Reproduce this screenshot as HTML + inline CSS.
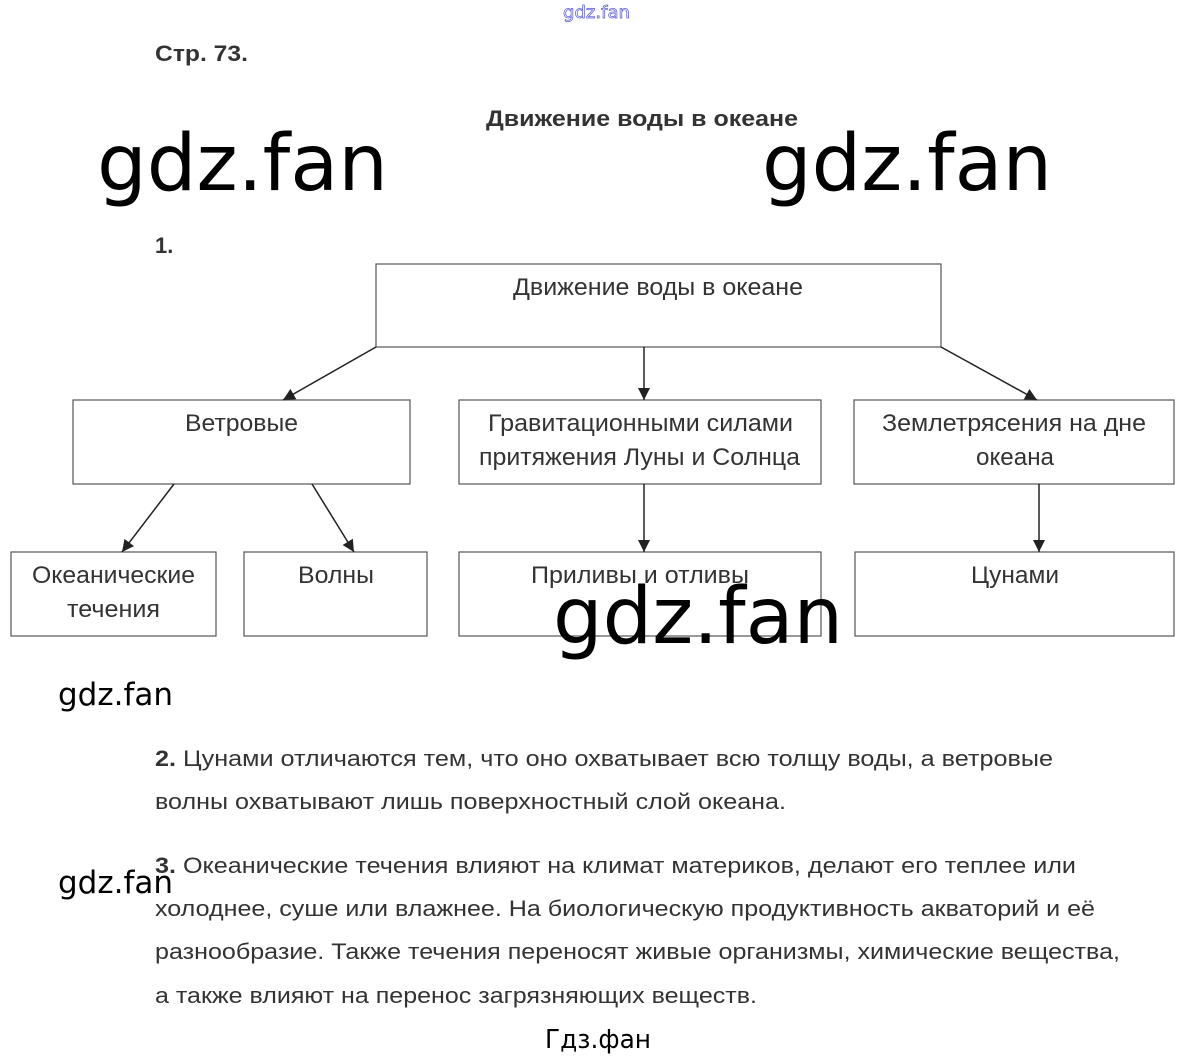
<!DOCTYPE html>
<html><head><meta charset="utf-8"><style>body{margin:0;background:#fff}svg{display:block}</style></head><body>
<svg width="1191" height="1058" viewBox="0 0 1191 1058" xmlns="http://www.w3.org/2000/svg">
<defs><marker id="a" viewBox="0 0 10 10" refX="10" refY="5" markerWidth="12" markerHeight="12" markerUnits="userSpaceOnUse" orient="auto"><path d="M0,0L10,5L0,10z" fill="#222"/></marker></defs>
<text x="563" y="18" font-family="DejaVu Sans" font-size="17" fill="#fff" stroke="#5a5ad8" stroke-width="0.7" textLength="67" lengthAdjust="spacingAndGlyphs">gdz.fan</text>
<g font-family="Liberation Sans, sans-serif" font-weight="bold" fill="#333">
<text x="155" y="61" font-size="22" textLength="93" lengthAdjust="spacingAndGlyphs">Стр. 73.</text>
<text x="486" y="126" font-size="22" textLength="312" lengthAdjust="spacingAndGlyphs">Движение воды в океане</text>
<text x="155" y="253" font-size="22">1.</text>
</g>
<g fill="#fff" stroke="#555" stroke-width="1.2">
<rect x="376" y="264" width="565" height="83"/>
<rect x="73" y="400" width="337" height="84"/>
<rect x="459" y="400" width="362" height="84"/>
<rect x="854" y="400" width="320" height="84"/>
<rect x="11" y="552" width="205" height="84"/>
<rect x="244" y="552" width="183" height="84"/>
<rect x="459" y="552" width="362" height="84"/>
<rect x="855" y="552" width="319" height="84"/>
</g>
<g stroke="#222" stroke-width="1.5" marker-end="url(#a)">
<line x1="376" y1="347" x2="283" y2="400"/>
<line x1="644" y1="347" x2="644" y2="400"/>
<line x1="941" y1="347" x2="1037" y2="400"/>
<line x1="174" y1="484" x2="122" y2="552"/>
<line x1="312" y1="484" x2="354" y2="552"/>
<line x1="644" y1="484" x2="644" y2="552"/>
<line x1="1039" y1="484" x2="1039" y2="552"/>
</g>
<g font-family="Liberation Sans, sans-serif" font-size="24" fill="#333">
<text x="513" y="295" textLength="290" lengthAdjust="spacingAndGlyphs">Движение воды в океане</text>
<text x="185" y="431" textLength="113" lengthAdjust="spacingAndGlyphs">Ветровые</text>
<text x="488" y="431" textLength="305" lengthAdjust="spacingAndGlyphs">Гравитационными силами</text>
<text x="479" y="465" textLength="321" lengthAdjust="spacingAndGlyphs">притяжения Луны и Солнца</text>
<text x="882" y="431" textLength="264" lengthAdjust="spacingAndGlyphs">Землетрясения на дне</text>
<text x="976" y="465" textLength="78" lengthAdjust="spacingAndGlyphs">океана</text>
<text x="32" y="583" textLength="163" lengthAdjust="spacingAndGlyphs">Океанические</text>
<text x="67" y="617" textLength="93" lengthAdjust="spacingAndGlyphs">течения</text>
<text x="298" y="583" textLength="76" lengthAdjust="spacingAndGlyphs">Волны</text>
<text x="531" y="583" textLength="218" lengthAdjust="spacingAndGlyphs">Приливы и отливы</text>
<text x="971" y="583" textLength="88" lengthAdjust="spacingAndGlyphs">Цунами</text>
</g>
<g font-family="Liberation Sans, sans-serif" font-size="22" fill="#333">
<text x="155" y="766" textLength="898" lengthAdjust="spacingAndGlyphs"><tspan font-weight="bold">2.</tspan> Цунами отличаются тем, что оно охватывает всю толщу воды, а ветровые</text>
<text x="155" y="809" textLength="631" lengthAdjust="spacingAndGlyphs">волны охватывают лишь поверхностный слой океана.</text>
<text x="155" y="873" textLength="921" lengthAdjust="spacingAndGlyphs"><tspan font-weight="bold">3.</tspan> Океанические течения влияют на климат материков, делают его теплее или</text>
<text x="155" y="916" textLength="940" lengthAdjust="spacingAndGlyphs">холоднее, суше или влажнее. На биологическую продуктивность акваторий и её</text>
<text x="155" y="959" textLength="965" lengthAdjust="spacingAndGlyphs">разнообразие. Также течения переносят живые организмы, химические вещества,</text>
<text x="155" y="1003" textLength="602" lengthAdjust="spacingAndGlyphs">а также влияют на перенос загрязняющих веществ.</text>
</g>
<g font-family="DejaVu Sans, sans-serif" fill="#000">
<text x="97" y="190" font-size="78" textLength="291" lengthAdjust="spacingAndGlyphs">gdz.fan</text>
<text x="762" y="190" font-size="78" textLength="290" lengthAdjust="spacingAndGlyphs">gdz.fan</text>
<text x="553" y="643" font-size="78" textLength="290" lengthAdjust="spacingAndGlyphs">gdz.fan</text>
<text x="58" y="705" font-size="31" textLength="115" lengthAdjust="spacingAndGlyphs">gdz.fan</text>
<text x="58" y="893" font-size="31" textLength="115" lengthAdjust="spacingAndGlyphs">gdz.fan</text>
<text x="545" y="1048" font-size="26" textLength="106" lengthAdjust="spacingAndGlyphs">Гдз.фан</text>
</g>
</svg>
</body></html>
